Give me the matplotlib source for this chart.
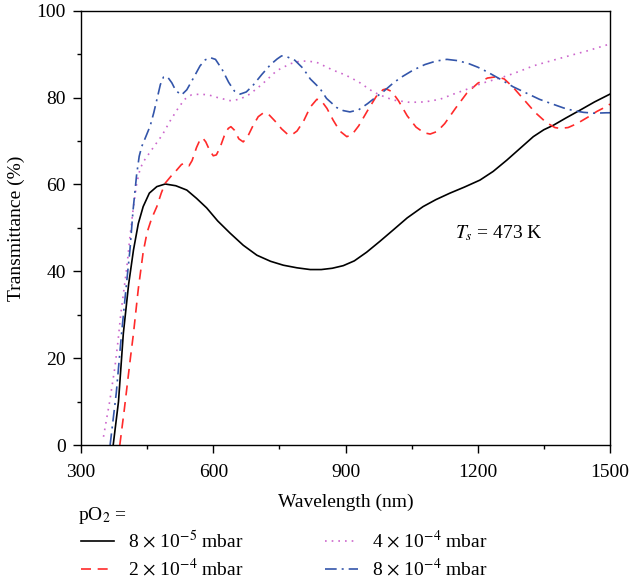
import matplotlib
matplotlib.use("Agg")
import matplotlib.pyplot as plt
from matplotlib.ticker import MultipleLocator

plt.rcParams['font.family'] = ['Liberation Serif', 'DejaVu Serif']
plt.rcParams['mathtext.fontset'] = 'stix'

# pO2 = 8e-5 mbar
wl_a = [373, 385, 396, 408, 419, 430, 441, 455, 472, 491, 515, 540, 562, 585, 610,
        638, 668, 699, 730, 759, 790, 820, 845, 870, 895, 920, 948, 978, 1008, 1040,
        1076, 1105, 1137, 1170, 1205, 1235, 1266, 1296, 1326, 1350, 1371, 1400, 1432,
        1465, 1500]
tr_a = [0, 10, 25.7, 37, 44.9, 51, 54.9, 58, 59.5, 60.1, 59.7, 58.7, 56.8, 54.6, 51.6,
        48.8, 46.0, 43.7, 42.3, 41.4, 40.8, 40.4, 40.4, 40.7, 41.3, 42.4, 44.4, 46.9, 49.5, 52.3,
        54.9, 56.5, 58.0, 59.4, 61.0, 63.0, 65.6, 68.3, 71.0, 72.6, 73.6, 75.3, 77.1,
        79.0, 80.8]

# pO2 = 2e-4 mbar
wl_b = [388, 398, 405, 412, 419, 430, 441, 450, 460, 472, 482, 491, 505, 517, 528,
        536, 545, 552, 562, 570, 576, 583, 592, 600, 607, 615, 625, 634, 640, 648,
        658, 668, 678, 690, 702, 714, 725, 740, 755, 768, 778, 790, 805, 820, 835,
        845, 858, 872, 887, 903, 915, 930, 950, 970, 985, 992, 1005, 1020, 1040, 1060,
        1078, 1092, 1108, 1125, 1150, 1175, 1200, 1222, 1243, 1260, 1280, 1305, 1330,
        1355, 1375, 1387, 1405, 1425, 1450, 1470, 1491, 1500]
tr_b = [0, 8, 14, 20, 25.7, 36, 44.4, 49, 52.1, 54.9, 58, 60.3, 62, 63.3, 64.6,
        64.9, 64.3, 65.5, 68.5, 70.3, 70.7, 69.8, 67.8, 66.6, 66.8, 68.4, 71.2, 72.9, 73.3, 72.5,
        70.5, 69.8, 71, 73.5, 75.6, 76.5, 76.2, 74.6, 72.8, 71.6, 71.4, 72.3, 74.6, 77.8, 79.6,
        79.3, 77.5, 74.8, 72.3, 71.0, 71.5, 73.5, 77, 80.3, 81.8, 82.0, 81.4, 79.3, 75.8, 73.2,
        71.9, 71.6, 72.2, 74, 77.6, 81, 83.3, 84.5, 84.8, 84.3, 82.4, 79.5, 76.6,
        74.3, 73.1, 72.9, 73.1, 74, 75.5, 76.8, 77.9, 78.5]

# pO2 = 4e-4 mbar
wl_c = [351, 358, 365, 371, 377, 384, 390, 397, 404, 411, 419, 426, 434, 442, 450,
        464, 485, 502, 520, 535, 550, 570, 590, 610, 638, 660, 683, 710, 744, 775,
        797, 815, 835, 872, 900, 930, 963, 990, 1010, 1046, 1080, 1114, 1145, 1175,
        1210, 1240, 1266, 1296, 1326, 1350, 1371, 1410, 1450, 1492, 1500]
tr_c = [1.9, 6, 10, 14, 18, 24, 30, 35.5, 41, 48, 54.9, 60, 63.6, 65.3, 66.5,
        68.5, 71.5, 74.6, 77.5, 79.6, 80.6, 80.8, 80.6, 80, 79.3, 79.6, 80.8, 83, 86.2, 87.8,
        88.4, 88.4, 88.1, 86.3, 85.2, 83.6, 81.3, 80.1, 79.4, 78.9, 79.0, 79.6, 80.8, 81.9,
        83.3, 84.2, 85, 86.1, 87.3, 88, 88.6, 89.7, 90.8, 92.1, 92.3]

# pO2 = 8e-4 mbar
wl_d = [366, 380, 392, 402, 411, 418, 426, 432, 438, 447, 457, 465, 472, 480, 487,
        496, 506, 515, 528, 540, 555, 570, 582, 593, 605, 620, 635, 648, 661, 675,
        690, 710, 730, 745, 755, 767, 785, 804, 820, 842, 857, 880, 895, 910, 930,
        950, 970, 985, 1010, 1030, 1053, 1080, 1105, 1130, 1155, 1180, 1200, 1220, 1250,
        1280, 1311, 1340, 1370, 1395, 1417, 1440, 1465, 1492, 1500]
tr_d = [0, 12, 25.7, 36, 44.9, 54, 62.1, 66.5, 68.8, 71, 73.5, 76.5, 79.5, 83, 84.7,
        84.8, 83.4, 81.6, 80.6, 81.8, 84.5, 87.3, 88.7, 89.2, 88.8, 86.5, 83.5, 81.5, 80.8, 81.3,
        82.8, 85.3, 87.6, 88.9, 89.6, 89.4, 88.6, 86.7, 84.3, 82.1, 79.8, 77.7, 77.0, 76.7, 77.2,
        78.6, 80.2, 81.3, 83.5, 84.9, 86.3, 87.6, 88.4, 88.8, 88.5, 87.8, 87, 86.0, 84.3,
        82.5, 81.0, 79.6, 78.5, 77.6, 77.0, 76.6, 76.4, 76.5, 76.5]

labels = [r'8 $\times$ 10$^{-5}$ mbar', r'2 $\times$ 10$^{-4}$ mbar',
          r'4 $\times$ 10$^{-4}$ mbar', r'8 $\times$ 10$^{-4}$ mbar']

fig = plt.figure(figsize=(6.31, 5.86), dpi=100)
ax = fig.add_axes([0.1284, 0.2406, 0.8383, 0.7411])

l1, = ax.plot(wl_a, tr_a, color='black', lw=1.2, ls='-')
l2, = ax.plot(wl_b, tr_b, color='#ff2a2a', lw=1.2, dashes=(6, 4))
l3, = ax.plot(wl_c, tr_c, color='#cc66cc', lw=1.2, dashes=(1, 3))
l4, = ax.plot(wl_d, tr_d, color='#3355aa', lw=1.2, dashes=(7, 3, 1.2, 3))

ax.set_xlim(300, 1500)
ax.set_ylim(0, 100)
ax.xaxis.set_major_locator(MultipleLocator(300))
ax.xaxis.set_minor_locator(MultipleLocator(150))
ax.yaxis.set_major_locator(MultipleLocator(20))
ax.yaxis.set_minor_locator(MultipleLocator(10))
ax.tick_params(which='major', length=6, width=1, labelsize=14, direction='out')
ax.tick_params(axis='x', which='major', pad=8)
ax.tick_params(axis='y', which='major', pad=5)
ax.tick_params(which='minor', length=3, width=1, direction='out')
for s in ax.spines.values():
    s.set_linewidth(1)

ax.set_xlabel('Wavelength (nm)', fontsize=14, labelpad=9)
ax.set_ylabel('Transmittance (%)', fontsize=14, labelpad=8)

ax.text(1148, 48.8, r'$T_s$ = 473 K', fontsize=14, va='center', ha='left')

fig.text(0.124, 0.121, r'pO$_2$ =', fontsize=14, va='center', ha='left')
fig.legend([l1, l2, l3, l4], labels, ncol=2, loc='upper left',
           bbox_to_anchor=(0.129, 0.096), frameon=False, fontsize=14,
           handlelength=1.7, handletextpad=0.7, columnspacing=4.2,
           labelspacing=0.28, borderaxespad=0, borderpad=0)

fig.savefig('out.png', dpi=100)
